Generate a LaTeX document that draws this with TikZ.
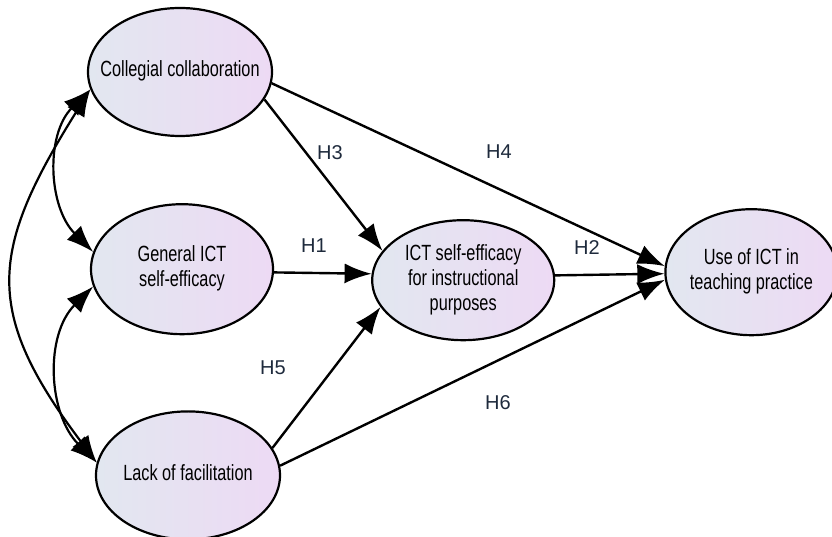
\documentclass[tikz,border=0pt]{standalone}
\usepackage{fontspec}
\setmainfont{Liberation Sans}
\newfontfamily\narrowsans[FakeStretch=0.74]{Liberation Sans}
\usepackage{xcolor}
\usetikzlibrary{shapes, arrows.meta, positioning, calc}
\definecolor{hypcolor}{RGB}{30,42,60}
\definecolor{ovalleft}{RGB}{226,231,240}
\definecolor{ovalright}{RGB}{237,218,244}
\newcommand{\ovaltext}[1]{\makebox[0pt]{\begin{tabular}{@{}c@{}}#1\end{tabular}}}

\begin{document}
\begin{tikzpicture}[x=1pt, y=1pt,
		latent/.style={ellipse, draw, line width=2.2pt, left color=ovalleft, right color=ovalright, inner sep=0pt, font=\narrowsans\fontsize{22}{25}\selectfont},
		regress/.style={draw, line width=2.4pt, -{Latex[length=27pt,width=20pt]}},
		covar/.style={draw, line width=2.2pt, {Latex[length=27pt,width=20pt]}-{Latex[length=27pt,width=20pt]}},
		hyp/.style={text=hypcolor, font=\fontsize{20}{24}\selectfont}]
		\useasboundingbox (0,0) rectangle (832,537);
		\node[latent, minimum width=184pt, minimum height=128pt] (coll) at (180,465) {\ovaltext{Collegial collaboration}};
		\node[latent, minimum width=182pt, minimum height=130pt, below=66pt of coll, xshift=2pt] (gen) {\ovaltext{General ICT\\self-efficacy}};
		\node[latent, minimum width=184pt, minimum height=128pt, below=75pt of gen, xshift=6pt] (lack) {\ovaltext{Lack of facilitation}};
		\node[latent, minimum width=182pt, minimum height=120pt, right=97pt of gen, yshift=-11pt] (instr) {\ovaltext{ICT self-efficacy\\for instructional\\purposes}};
		\node[latent, minimum width=172pt, minimum height=126pt, right=109pt of instr, yshift=8pt] (use) {\ovaltext{Use of ICT in\\teaching practice}};
		% hypotheses
		\path[regress] (coll.-18) -- (instr.160);
		\path[regress] (coll.-7) -- (use.176);
		\path[regress] (gen.-2) -- (instr.176);
		\path[regress] (instr.3) -- (use.181);
		\path[regress] (lack.18) -- (instr.198);
		\path[regress] (lack.6) -- (use.185);
		% covariances
		\path[covar] (coll.191) to[out=225, in=135] (gen.169);
		\path[covar] (gen.191) to[out=225, in=135] (lack.172);
		\path[covar] (coll.191) to[out=238, in=127, looseness=1.3] (lack.172);
		\node[hyp] (h3) at (330,384) {H3};
		\node[hyp] (h4) at (499,385) {H4};
		\node[hyp] (h1) at (314,291) {H1};
		\node[hyp] (h2) at (587,289) {H2};
		\node[hyp] (h5) at (273,169) {H5};
		\node[hyp] (h6) at (498,134) {H6};
	\end{tikzpicture}
\end{document}
